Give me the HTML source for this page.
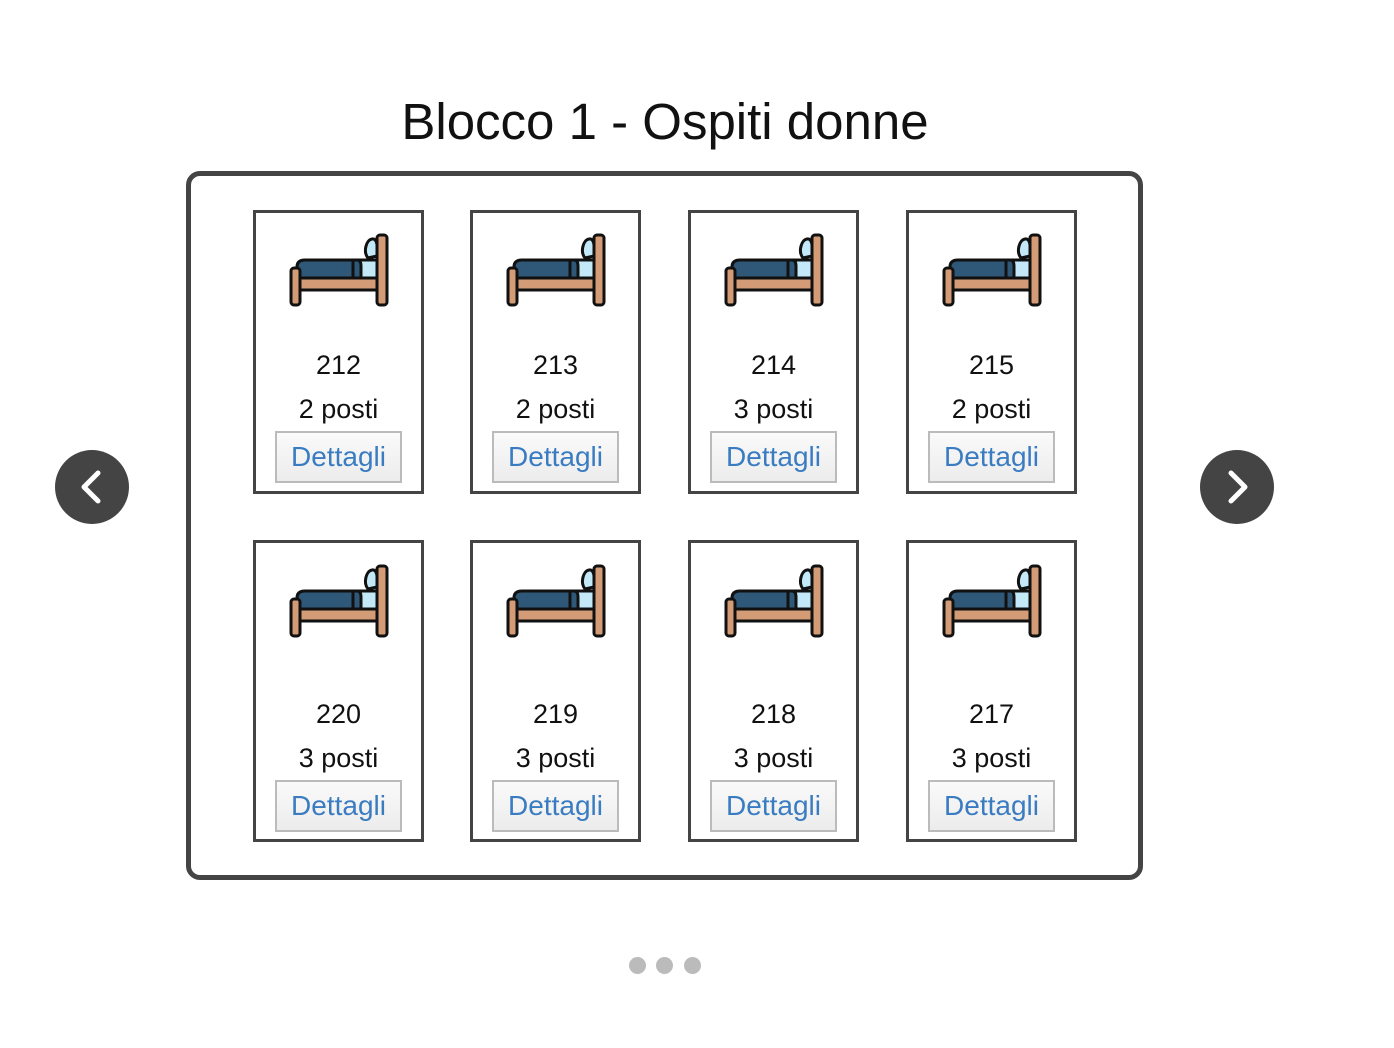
<!DOCTYPE html>
<html><head><meta charset="utf-8"><style>
body{margin:0;width:1394px;height:1048px;background:#fff;position:relative;overflow:hidden;font-family:"Liberation Sans",sans-serif;}
h1{position:absolute;left:0;width:1330px;top:89px;margin:0;text-align:center;font-weight:normal;font-size:51px;line-height:66px;color:#111;}
.box{position:absolute;left:186px;top:171px;width:947px;height:699px;border:5px solid #444;border-radius:14px;}
.card{position:absolute;border:3px solid #444;box-sizing:border-box;width:171px;background:#fff;}
.card svg{position:absolute;left:-3px;top:-3px;}
.t{position:absolute;left:0;width:165px;text-align:center;font-size:27px;color:#111;line-height:32px;}
.btn{position:absolute;left:19px;width:127px;height:52px;box-sizing:border-box;border:2px solid #bbb;background:linear-gradient(#fafafa,#ececec);color:#3a7cc1;font-size:28px;text-align:center;line-height:48px;}
.arr{position:absolute;width:74px;height:74px;border-radius:50%;background:#444;top:450px;}
.dot{position:absolute;width:17px;height:17px;border-radius:50%;background:#bbb;top:957px;}
</style></head><body>
<h1>Blocco 1 - Ospiti donne</h1>
<div class="box"></div>
<div class="arr" style="left:55px"><svg width="74" height="74"><polyline points="43,23 29,37 43,51" fill="none" stroke="#fff" stroke-width="5" stroke-linecap="round" stroke-linejoin="round"/></svg></div>
<div class="arr" style="left:1200px"><svg width="74" height="74"><polyline points="31,23 45,37 31,51" fill="none" stroke="#fff" stroke-width="5" stroke-linecap="round" stroke-linejoin="round"/></svg></div>
<div class="dot" style="left:629px"></div><div class="dot" style="left:656px"></div><div class="dot" style="left:684px"></div>

<div id="cards"></div>
<script>
var bed='<svg width="171" height="110" viewBox="0 0 171 110"><g stroke="#111" stroke-width="3" stroke-linejoin="round"><rect x="100" y="50" width="28" height="18" fill="#c3e8f7"/><path d="M115 48 C110 42 113 30 119 29 C124 28 125 36 124 46 Z" fill="#c3e8f7"/><path d="M44 68 L44 57 Q44 50 52 50 L104 50 Q108 50 108 56 L108 68 Z" fill="#2f5878"/><rect x="40" y="68" width="88" height="12" fill="#d49b77"/><rect x="38" y="58" width="9" height="37" rx="3" fill="#d49b77"/><rect x="124" y="25" width="10" height="70" rx="3" fill="#d49b77"/></g><line x1="100" y1="50" x2="100" y2="68" stroke="#111" stroke-width="3"/></svg>';
var d=[["212","2"],["213","2"],["214","3"],["215","2"],["220","3"],["219","3"],["218","3"],["217","3"]];
var xs=[253,470,688,906],h='';
d.forEach(function(r,i){var row=i>>2,x=xs[i%4],y=row?540:210,ht=row?302:284;
var ty=row?155:136,by=row?237:218;
h+='<div class="card" style="left:'+x+'px;top:'+y+'px;height:'+ht+'px">'+(row?bed.replace('viewBox="0 0 171 110"','viewBox="0 -1 171 110"'):bed)+'<div class="t" style="top:'+ty+'px">'+r[0]+'</div><div class="t" style="top:'+(ty+44)+'px">'+r[1]+' posti</div><div class="btn" style="top:'+by+'px">Dettagli</div></div>';});
document.getElementById('cards').innerHTML=h;
</script>
</body></html>
